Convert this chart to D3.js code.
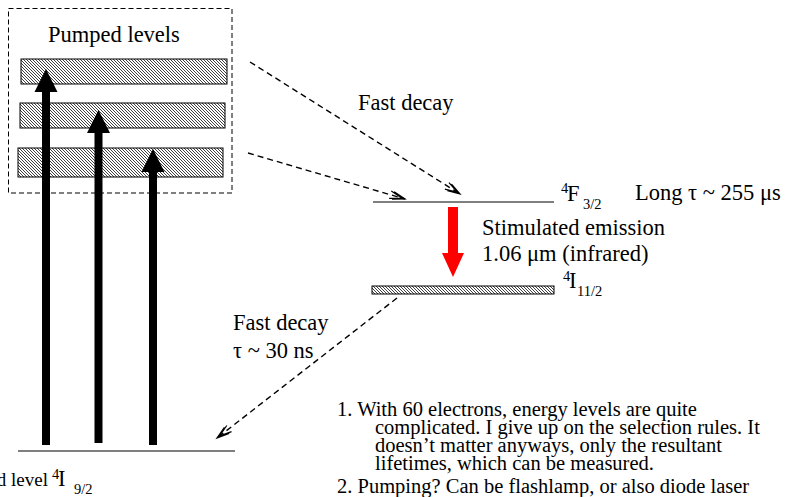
<!DOCTYPE html>
<html><head><meta charset="utf-8">
<script src="https://cdn.jsdelivr.net/npm/d3@7"></script>
</head><body style="margin:0;padding:0;background:#fff">
<svg id="c" width="788" height="497" style="display:block" font-family="Liberation Serif, Times New Roman, serif"></svg>
<script>
// ---- data (diagram units: horizontal position, energy above ground) ----
const pumpedBandLow   = [367, 323, 274];
const pumpedBandHigh  = [392, 348, 303];
const pumpedBandLeft  = [21, 20, 18];
const pumpedBandRight = [227, 225, 223];

const pumpArrowPos  = [46, 98.5, 153];
const pumpArrowFrom = [6, 8, 6];
const pumpArrowTo   = [382, 341, 302];

const levelNames  = ["4I9/2", "4F3/2"];
const levelEnergy = [0, 249];
const levelLeft   = [18, 373];
const levelRight  = [235, 554];

const lowerBandLow = [157];
const lowerBandHigh = [165];
const lowerBandLeft = [372];
const lowerBandRight = [554];

const laserFrom = [244];
const laserTo   = [174];
const laserPos  = [453];

const decayFromPos = [250, 248, 397];
const decayFromE   = [389, 298, 153];
const decayToPos   = [460, 405, 217];
const decayToE     = [257, 252, 13];

const noteLines = [
  "1. With 60 electrons, energy levels are quite",
  "complicated. I give up on the selection rules. It",
  "doesn\u2019t matter anyways, only the resultant",
  "lifetimes, which can be measured.",
  "2. Pumping? Can be flashlamp, or also diode laser"
];

// ---- scales ----
const x = d3.scaleLinear().domain([0, 788]).range([0, 788]);
const y = d3.scaleLinear().domain([0, 451]).range([451, 0]);

const svg = d3.select("#c");
const defs = svg.append("defs");
const pat = defs.append("pattern").attr("id","hatch").attr("patternUnits","userSpaceOnUse")
  .attr("width",3).attr("height",3);
pat.append("rect").attr("width",3).attr("height",3).attr("fill","#fff");
pat.append("path").attr("d","M-1,-1 L4,4 M-1,2 L1,4 M2,-1 L4,1").attr("stroke","#000").attr("stroke-width",0.75);

// dashed box around pumped levels
svg.append("rect").attr("x", x(8.5)).attr("y", 8.5).attr("width", x(232)-x(8.5)).attr("height", 193-8.5)
  .attr("fill","none").attr("stroke","#000").attr("stroke-width",1).attr("stroke-dasharray","5,3");

// pumped bands
svg.selectAll("rect.band").data(d3.range(pumpedBandLow.length)).join("rect")
  .attr("class","band")
  .attr("x", i => x(pumpedBandLeft[i])).attr("width", i => x(pumpedBandRight[i]) - x(pumpedBandLeft[i]))
  .attr("y", i => y(pumpedBandHigh[i])).attr("height", i => y(pumpedBandLow[i]) - y(pumpedBandHigh[i]))
  .attr("fill","url(#hatch)").attr("stroke","#000").attr("stroke-width",1);

// lower laser band 4I11/2
svg.selectAll("rect.lband").data(d3.range(lowerBandLow.length)).join("rect")
  .attr("class","lband")
  .attr("x", i => x(lowerBandLeft[i])).attr("width", i => x(lowerBandRight[i]) - x(lowerBandLeft[i]))
  .attr("y", i => y(lowerBandHigh[i])).attr("height", i => y(lowerBandLow[i]) - y(lowerBandHigh[i]))
  .attr("fill","url(#hatch)").attr("stroke","#000").attr("stroke-width",1);

// single levels
svg.selectAll("line.level").data(d3.range(levelEnergy.length)).join("line")
  .attr("class","level")
  .attr("x1", i => x(levelLeft[i])).attr("x2", i => x(levelRight[i]))
  .attr("y1", i => y(levelEnergy[i])).attr("y2", i => y(levelEnergy[i]))
  .attr("stroke","#000").attr("stroke-width",1.2);

function thickArrow(px, yTail, yTip, sw, hw, hl) {
  const s = yTip < yTail ? -1 : 1;
  const hb = yTip - s * hl;
  return `M${px-sw/2},${yTail}L${px-sw/2},${hb}L${px-hw/2},${hb}L${px},${yTip}L${px+hw/2},${hb}L${px+sw/2},${hb}L${px+sw/2},${yTail}Z`;
}

// pump arrows
svg.selectAll("path.pump").data(d3.range(pumpArrowPos.length)).join("path")
  .attr("class","pump")
  .attr("d", i => thickArrow(x(pumpArrowPos[i]), y(pumpArrowFrom[i]), y(pumpArrowTo[i]), 8, 23, 23))
  .attr("fill","#000");

// stimulated emission arrow
svg.selectAll("path.laser").data(d3.range(laserPos.length)).join("path")
  .attr("class","laser")
  .attr("d", i => thickArrow(x(laserPos[i]), y(laserFrom[i]), y(laserTo[i]), 10, 22, 24))
  .attr("fill","#ff0000");

// dashed decay arrows
const dg = svg.append("g");
d3.range(decayFromPos.length).forEach(i => {
  const x1 = x(decayFromPos[i]), y1 = y(decayFromE[i]), x2 = x(decayToPos[i]), y2 = y(decayToE[i]);
  dg.append("line").attr("x1",x1).attr("y1",y1).attr("x2",x2).attr("y2",y2)
    .attr("stroke","#000").attr("stroke-width",1.4).attr("stroke-dasharray","6,4");
  const a = Math.atan2(y2-y1, x2-x1), L = 13, phi = 0.3;
  const p = [];
  [0, 3].forEach(off => {
    const tx = x2 - off*Math.cos(a), ty = y2 - off*Math.sin(a);
    p.push(`M${tx - L*Math.cos(a-phi)},${ty - L*Math.sin(a-phi)}L${tx},${ty}L${tx - L*Math.cos(a+phi)},${ty - L*Math.sin(a+phi)}`);
  });
  dg.append("path").attr("d", p.join("")).attr("fill","none").attr("stroke","#000").attr("stroke-width",1.2);
});

// ---- text ----
const F = 22.5, S = 14.5;
const tg = svg.append("g").attr("font-family", "Liberation Serif, serif");
function txt(tx, ty, s, size, anchor) {
  return tg.append("text").attr("x", tx).attr("y", ty).attr("font-size", size || F)
    .attr("text-anchor", anchor || "start").attr("fill","#000")
    .style("font-family", '"Liberation Serif", serif')
    .text(s);
}
txt(48, 42, "Pumped levels");
txt(358, 110, "Fast decay");
txt(635, 200, "Long \u03c4 ~ 255 \u03bcs");
txt(482, 235, "Stimulated emission");
txt(482, 261, "1.06 \u03bcm (infrared)");
txt(233, 330, "Fast decay");
txt(233, 358, "\u03c4 ~ 30 ns");
// level labels
txt(561, 193, "4", S); txt(567, 201, "F"); txt(583, 209, "3/2", S);
txt(563, 281, "4", S); txt(569, 288, "I"); txt(577, 296, "11/2", S);
txt(48, 486, "Ground level", 19, "end"); txt(52, 479, "4", S); txt(58, 486, "I"); txt(74, 494, "9/2", S);

// notes
const NF = 20.5;
const noteX = [337, 375, 375, 375, 337];
const noteY = [416, 434, 452, 470, 493];
noteLines.forEach((s, i) => txt(noteX[i], noteY[i], s, NF));
</script>
</body></html>
